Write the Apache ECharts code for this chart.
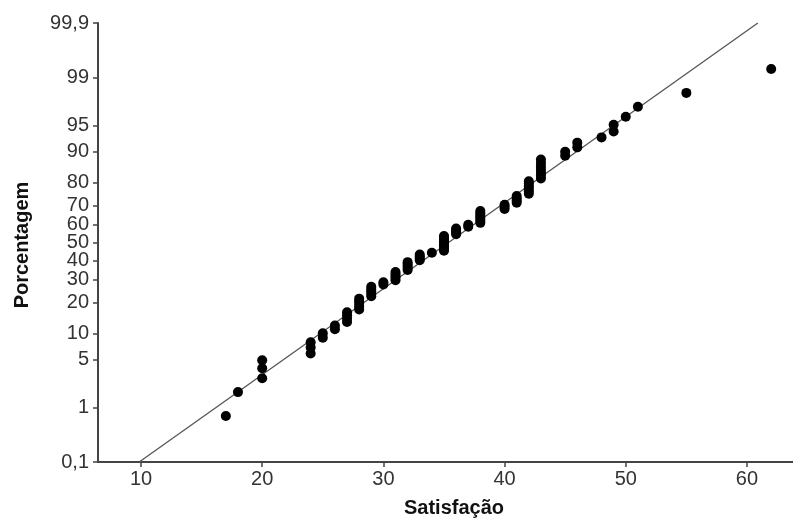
<!DOCTYPE html>
<html><head><meta charset="utf-8">
<script src="https://cdn.jsdelivr.net/npm/echarts@6/dist/echarts.min.js"></script>
<style>html,body{margin:0;padding:0;background:#fff}#c{width:793px;height:522px}</style>
</head><body><div id="c"></div>
<script>
// Observed data (Satisfação value, plotted percentage)
const satisfacao = [17,18,20,20,20,24,24,24,25,25,26,26,27,27,27,27,28,28,28,28,28,29,29,29,29,29,30,30,31,31,31,31,31,32,32,32,32,32,33,33,33,33,34,35,35,35,35,35,35,35,35,35,36,36,36,36,37,37,38,38,38,38,38,38,38,40,40,40,41,41,41,41,42,42,42,42,42,42,43,43,43,43,43,43,43,45,45,46,46,48,49,49,50,51,55,62];
const porcentagem = [0.73,1.76,2.80,3.84,4.88,5.91,6.95,7.99,9.02,10.06,11.10,12.14,13.17,14.21,15.25,16.29,17.32,18.36,19.40,20.44,21.47,22.51,23.55,24.59,25.62,26.66,27.70,28.73,29.77,30.81,31.85,32.88,33.92,34.96,36.00,37.03,38.07,39.11,40.15,41.18,42.22,43.26,44.29,45.33,46.37,47.41,48.44,49.48,50.52,51.56,52.59,53.63,54.67,55.71,56.74,57.78,58.82,59.85,60.89,61.93,62.97,64.00,65.04,66.08,67.12,68.15,69.19,70.23,71.27,72.30,73.34,74.38,75.41,76.45,77.49,78.53,79.56,80.60,81.64,82.68,83.71,84.75,85.79,86.83,87.86,88.90,89.94,90.98,92.01,93.05,94.09,95.12,96.16,97.20,98.24,99.27];
// Fitted reference line endpoints
const fitX = [9.85, 60.9];
const fitP = [0.1, 99.9];
// Tick labels
const xTicks = [10,20,30,40,50,60];
const yTickPct = [0.1,1,5,10,20,30,40,50,60,70,80,90,95,99,99.9];
const yTickLabels = ['0,1','1','5','10','20','30','40','50','60','70','80','90','95','99','99,9'];

// normal probability scale transform (inverse normal CDF, Acklam)
function probit(pct){
  const p = pct/100;
  const a=[-3.969683028665376e+01,2.209460984245205e+02,-2.759285104469687e+02,1.383577518672690e+02,-3.066479806614716e+01,2.506628277459239e+00];
  const b=[-5.447609879822406e+01,1.615858368580409e+02,-1.556989798598866e+02,6.680131188771972e+01,-1.328068155288572e+01];
  const c=[-7.784894002430293e-03,-3.223964580411365e-01,-2.400758277161838e+00,-2.549732539343734e+00,4.374664141464968e+00,2.938163982698783e+00];
  const d=[7.784695709041462e-03,3.224671290700398e-01,2.445134137142996e+00,3.754408661907416e+00];
  const pl=0.02425, ph=1-pl; let q,r;
  if(p<pl){q=Math.sqrt(-2*Math.log(p));return (((((c[0]*q+c[1])*q+c[2])*q+c[3])*q+c[4])*q+c[5])/((((d[0]*q+d[1])*q+d[2])*q+d[3])*q+1);}
  if(p<=ph){q=p-0.5;r=q*q;return (((((a[0]*r+a[1])*r+a[2])*r+a[3])*r+a[4])*r+a[5])*q/(((((b[0]*r+b[1])*r+b[2])*r+b[3])*r+b[4])*r+1);}
  q=Math.sqrt(-2*Math.log(1-p));return -(((((c[0]*q+c[1])*q+c[2])*q+c[3])*q+c[4])*q+c[5])/((((d[0]*q+d[1])*q+d[2])*q+d[3])*q+1);
}
const yTickZ = yTickPct.map(probit);
const pts = satisfacao.map((x,i)=>[x, probit(porcentagem[i])]);
const fitLine = fitX.map((x,i)=>[x, probit(fitP[i])]);

const axisColor = '#444';
const labelFont = {fontFamily:'Liberation Sans', fontSize:20, color:'#333'};
const chart = echarts.init(document.getElementById('c'));
chart.setOption({
  animation:false,
  backgroundColor:'#fff',
  grid:{left:98, right:0, top:23, bottom:60, containLabel:false},
  xAxis:{type:'value', min:6.45, max:63.8,
    axisLine:{show:true, onZero:false, lineStyle:{color:axisColor, width:2}},
    axisTick:{show:true, length:5, lineStyle:{color:axisColor, width:1.5}, customValues:xTicks},
    axisLabel:Object.assign({margin:7, customValues:xTicks}, labelFont),
    splitLine:{show:false}},
  yAxis:{type:'value', min:yTickZ[0], max:yTickZ[yTickZ.length-1],
    axisLine:{show:true, onZero:false, lineStyle:{color:axisColor, width:2}},
    axisTick:{show:true, length:5, lineStyle:{color:axisColor, width:1.5}, customValues:yTickZ},
    axisLabel:Object.assign({margin:9, customValues:yTickZ, formatter:function(v){
      let best=0; for(let i=0;i<yTickZ.length;i++){ if(Math.abs(yTickZ[i]-v)<Math.abs(yTickZ[best]-v)) best=i; }
      return yTickLabels[best]; }}, labelFont),
    splitLine:{show:false}},
  graphic:[
    {type:'text', x:454, y:508, style:{text:'Satisfação', align:'center', verticalAlign:'middle', font:'bold 20px "Liberation Sans"', fill:'#111'}},
    {type:'text', x:22, y:245, rotation:Math.PI/2, style:{text:'Porcentagem', align:'center', verticalAlign:'middle', font:'bold 20px "Liberation Sans"', fill:'#111'}}
  ],
  series:[
    {type:'line', data:fitLine, symbol:'none', lineStyle:{color:'#555', width:1.3}, z:1, silent:true},
    {type:'scatter', data:pts, symbol:'circle', symbolSize:10, itemStyle:{color:'#000', opacity:1}, z:2}
  ]
});
</script></body></html>
